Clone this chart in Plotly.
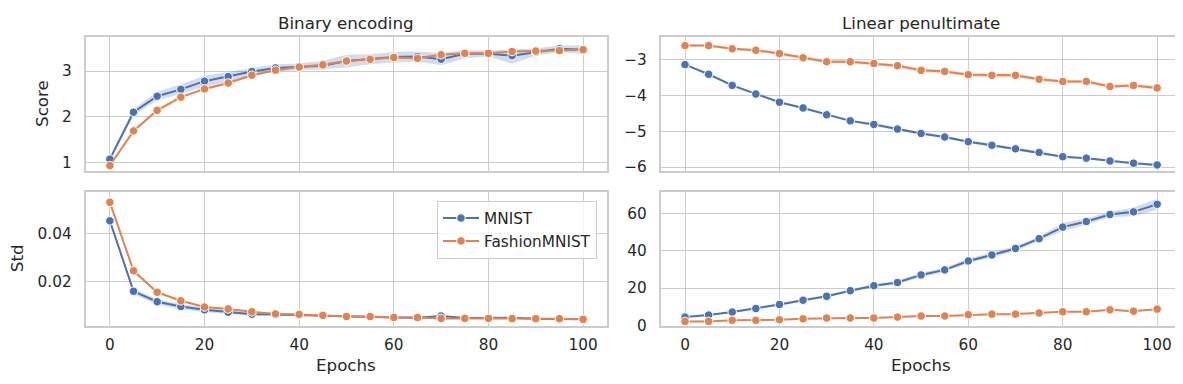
import plotly.graph_objects as go
from plotly.subplots import make_subplots

epochs = [0, 5, 10, 15, 20, 25, 30, 35, 40, 45, 50, 55, 60, 65, 70, 75, 80, 85, 90, 95, 100]
series_names = ["MNIST", "FashionMNIST"]
panel_titles = ["Binary encoding", "Linear penultimate"]

# Binary encoding - Score
score_bin_mnist = [1.07, 2.10, 2.45, 2.60, 2.78, 2.88, 2.99, 3.07, 3.09, 3.12, 3.22, 3.26, 3.31, 3.32, 3.26, 3.38, 3.38, 3.34, 3.42, 3.49, 3.47]
score_bin_mnist_lo = [1.03, 2.03, 2.36, 2.50, 2.66, 2.77, 2.91, 2.99, 3.02, 3.04, 3.08, 3.15, 3.19, 3.21, 3.13, 3.28, 3.32, 3.16, 3.34, 3.42, 3.37]
score_bin_mnist_hi = [1.11, 2.17, 2.55, 2.71, 2.90, 2.98, 3.07, 3.15, 3.17, 3.22, 3.36, 3.37, 3.42, 3.43, 3.40, 3.46, 3.45, 3.47, 3.50, 3.56, 3.57]
score_bin_fashion = [0.93, 1.69, 2.14, 2.43, 2.61, 2.74, 2.91, 3.02, 3.09, 3.14, 3.22, 3.26, 3.30, 3.28, 3.36, 3.39, 3.39, 3.43, 3.44, 3.45, 3.47]
score_bin_fashion_hw = [0.02, 0.03, 0.03, 0.03, 0.03, 0.03, 0.03, 0.02, 0.02, 0.02, 0.02, 0.02, 0.02, 0.02, 0.02, 0.02, 0.02, 0.02, 0.02, 0.02, 0.02]

# Linear penultimate - Score
score_lin_mnist = [-3.14, -3.41, -3.72, -3.96, -4.19, -4.35, -4.54, -4.71, -4.81, -4.94, -5.06, -5.16, -5.29, -5.39, -5.49, -5.59, -5.71, -5.75, -5.83, -5.89, -5.94]
score_lin_mnist_hw = [0.02, 0.02, 0.03, 0.03, 0.03, 0.03, 0.03, 0.03, 0.04, 0.04, 0.04, 0.04, 0.04, 0.04, 0.04, 0.03, 0.03, 0.03, 0.03, 0.03, 0.03]
score_lin_fashion = [-2.61, -2.61, -2.70, -2.74, -2.83, -2.95, -3.06, -3.06, -3.11, -3.17, -3.30, -3.33, -3.42, -3.44, -3.44, -3.55, -3.61, -3.61, -3.75, -3.72, -3.79]
score_lin_fashion_hw = [0.03, 0.04, 0.04, 0.04, 0.05, 0.05, 0.05, 0.05, 0.05, 0.05, 0.05, 0.05, 0.05, 0.06, 0.06, 0.05, 0.05, 0.05, 0.05, 0.05, 0.05]

# Binary encoding - Std
std_bin_mnist = [0.0455, 0.0159, 0.0115, 0.0095, 0.0081, 0.0071, 0.0063, 0.0062, 0.0059, 0.0058, 0.0053, 0.0052, 0.0049, 0.0048, 0.0055, 0.0047, 0.0047, 0.0048, 0.0044, 0.0042, 0.0041]
std_bin_mnist_hw = [0.0004, 0.0012, 0.0012, 0.0011, 0.0010, 0.0008, 0.0006, 0.0004, 0.0003, 0.0003, 0.0003, 0.0003, 0.0003, 0.0003, 0.0003, 0.0003, 0.0003, 0.0003, 0.0003, 0.0003, 0.0003]
std_bin_fashion = [0.0533, 0.0245, 0.0155, 0.0119, 0.0093, 0.0085, 0.0073, 0.0064, 0.0062, 0.0058, 0.0053, 0.0053, 0.0049, 0.0049, 0.0045, 0.0045, 0.0045, 0.0044, 0.0044, 0.0044, 0.0041]
std_bin_fashion_hw = [0.0004, 0.0004, 0.0003, 0.0003, 0.0003, 0.0003, 0.0003, 0.0002, 0.0002, 0.0002, 0.0002, 0.0002, 0.0002, 0.0002, 0.0002, 0.0002, 0.0002, 0.0002, 0.0002, 0.0002, 0.0002]

# Linear penultimate - Std
std_lin_mnist = [4.4, 5.5, 7.1, 9.0, 11.2, 13.5, 15.6, 18.6, 21.3, 23.0, 27.1, 29.8, 34.6, 37.8, 41.3, 46.6, 52.8, 55.8, 59.6, 61.0, 65.1]
std_lin_mnist_hw = [0.4, 0.4, 0.5, 0.5, 0.6, 0.6, 0.7, 0.7, 0.9, 0.9, 1.2, 1.2, 1.3, 1.3, 1.4, 1.2, 2.2, 1.6, 1.5, 2.4, 3.0]
std_lin_fashion = [2.1, 2.1, 2.7, 2.7, 3.0, 3.5, 3.9, 3.9, 3.9, 4.4, 5.0, 5.0, 5.7, 6.0, 6.0, 6.6, 7.3, 7.3, 8.3, 7.6, 8.7]
std_lin_fashion_hw = [0.3, 0.3, 0.3, 0.3, 0.3, 0.3, 0.3, 0.3, 0.3, 0.4, 0.4, 0.4, 0.4, 0.4, 0.4, 0.4, 0.4, 0.4, 0.5, 0.5, 0.5]

x_ticks = [0, 20, 40, 60, 80, 100]

BLUE = "#4C72B0"
ORANGE = "#DD8452"
BLUE_FILL = "rgba(76,114,176,0.25)"
ORANGE_FILL = "rgba(221,132,82,0.25)"
TEXT = "#262626"
GRID = "#cccccc"
FONT = "DejaVu Sans"
TICK_SIZE = 15.3
LABEL_SIZE = 16.7

W, H = 1183, 384

fig = make_subplots(rows=2, cols=2)


def add_series(row, col, y, lo, hi, color, fill, name, showlegend):
    fig.add_trace(go.Scatter(x=epochs, y=hi, mode="lines", line=dict(width=0, color=color),
                             showlegend=False, hoverinfo="skip"), row=row, col=col)
    fig.add_trace(go.Scatter(x=epochs, y=lo, mode="lines", line=dict(width=0, color=color),
                             fill="tonexty", fillcolor=fill, showlegend=False, hoverinfo="skip"),
                  row=row, col=col)
    fig.add_trace(go.Scatter(x=epochs, y=y, mode="lines+markers", name=name,
                             line=dict(color=color, width=2),
                             marker=dict(symbol="circle", size=8.5, color=color,
                                         line=dict(color="white", width=1)),
                             showlegend=showlegend, legendgroup=name), row=row, col=col)


def pm(vals, hw, sign):
    return [v + sign * h for v, h in zip(vals, hw)]


# top-left
add_series(1, 1, score_bin_mnist, score_bin_mnist_lo, score_bin_mnist_hi, BLUE, BLUE_FILL, series_names[0], False)
add_series(1, 1, score_bin_fashion, pm(score_bin_fashion, score_bin_fashion_hw, -1),
           pm(score_bin_fashion, score_bin_fashion_hw, 1), ORANGE, ORANGE_FILL, series_names[1], False)
# top-right
add_series(1, 2, score_lin_mnist, pm(score_lin_mnist, score_lin_mnist_hw, -1),
           pm(score_lin_mnist, score_lin_mnist_hw, 1), BLUE, BLUE_FILL, series_names[0], False)
add_series(1, 2, score_lin_fashion, pm(score_lin_fashion, score_lin_fashion_hw, -1),
           pm(score_lin_fashion, score_lin_fashion_hw, 1), ORANGE, ORANGE_FILL, series_names[1], False)
# bottom-left
add_series(2, 1, std_bin_mnist, pm(std_bin_mnist, std_bin_mnist_hw, -1),
           pm(std_bin_mnist, std_bin_mnist_hw, 1), BLUE, BLUE_FILL, series_names[0], True)
add_series(2, 1, std_bin_fashion, pm(std_bin_fashion, std_bin_fashion_hw, -1),
           pm(std_bin_fashion, std_bin_fashion_hw, 1), ORANGE, ORANGE_FILL, series_names[1], True)
# bottom-right
add_series(2, 2, std_lin_mnist, pm(std_lin_mnist, std_lin_mnist_hw, -1),
           pm(std_lin_mnist, std_lin_mnist_hw, 1), BLUE, BLUE_FILL, series_names[0], False)
add_series(2, 2, std_lin_fashion, pm(std_lin_fashion, std_lin_fashion_hw, -1),
           pm(std_lin_fashion, std_lin_fashion_hw, 1), ORANGE, ORANGE_FILL, series_names[1], False)

# domains (pixels -> paper)
left_x = [77.5 / W, 599 / W]
right_x = [652.7 / W, 1173 / W]
top_y = [1 - 166.5 / H, 1 - 30 / H]
bot_y = [1 - 325 / H, 1 - 187.5 / H]

axis_common = dict(showline=True, mirror=True, linecolor=GRID, linewidth=1.6,
                   showgrid=True, gridcolor=GRID, gridwidth=1.2, zeroline=False,
                   ticks="", tickfont=dict(family=FONT, size=TICK_SIZE, color=TEXT))

xr = [-5.15, 105.05]
YSO = 9
XSO = 4
fig.update_layout(
    xaxis=dict(domain=left_x, range=xr, tickvals=x_ticks, showticklabels=False, **axis_common),
    yaxis=dict(domain=top_y, range=[0.81, 3.74], tickvals=[1, 2, 3], ticklabelstandoff=YSO, **axis_common),
    xaxis2=dict(domain=right_x, range=xr, tickvals=x_ticks, showticklabels=False, **axis_common),
    yaxis2=dict(domain=top_y, range=[-6.11, -2.38], tickvals=[-6, -5, -4, -3], ticklabelstandoff=YSO, **axis_common),
    xaxis3=dict(domain=left_x, range=xr, tickvals=x_ticks, ticklabelstandoff=XSO, **axis_common),
    yaxis3=dict(domain=bot_y, range=[0.00122, 0.0578], tickvals=[0.02, 0.04], ticklabelstandoff=YSO, **axis_common),
    xaxis4=dict(domain=right_x, range=xr, tickvals=x_ticks, ticklabelstandoff=XSO, **axis_common),
    yaxis4=dict(domain=bot_y, range=[-0.5, 71.9], tickvals=[0, 20, 40, 60], ticklabelstandoff=YSO, **axis_common),
)

annotations = []
# titles
for xd, t in zip([left_x, right_x], panel_titles):
    annotations.append(dict(text=t, x=(xd[0] + xd[1]) / 2, y=1 - 15.5 / H, xref="paper", yref="paper",
                            xanchor="center", yanchor="middle", showarrow=False,
                            font=dict(family=FONT, size=LABEL_SIZE, color=TEXT)))
# x labels
for xd in [left_x, right_x]:
    annotations.append(dict(text="Epochs", x=(xd[0] + xd[1]) / 2, y=1 - 364.5 / H, xref="paper", yref="paper",
                            xanchor="center", yanchor="middle", showarrow=False,
                            font=dict(family=FONT, size=LABEL_SIZE, color=TEXT)))
# y labels
annotations.append(dict(text="Score", x=34 / W, y=1 - 98 / H, xref="paper", yref="paper",
                        xanchor="center", yanchor="middle", showarrow=False, textangle=-90,
                        font=dict(family=FONT, size=LABEL_SIZE, color=TEXT)))
annotations.append(dict(text="Std", x=8.5 / W, y=1 - 256 / H, xref="paper", yref="paper",
                        xanchor="center", yanchor="middle", showarrow=False, textangle=-90,
                        font=dict(family=FONT, size=LABEL_SIZE, color=TEXT)))

fig.update_layout(
    width=W, height=H,
    margin=dict(l=0, r=0, t=0, b=0),
    paper_bgcolor="white", plot_bgcolor="white",
    font=dict(family=FONT, color=TEXT),
    annotations=annotations,
    showlegend=True,
    legend=dict(x=589 / W, y=1 - 196.7 / H, xanchor="right", yanchor="top",
                bgcolor="rgba(255,255,255,0.8)", bordercolor=GRID, borderwidth=1,
                itemwidth=36,
                font=dict(family=FONT, size=TICK_SIZE, color=TEXT), tracegroupgap=0),
)

fig.write_html("out.html")
